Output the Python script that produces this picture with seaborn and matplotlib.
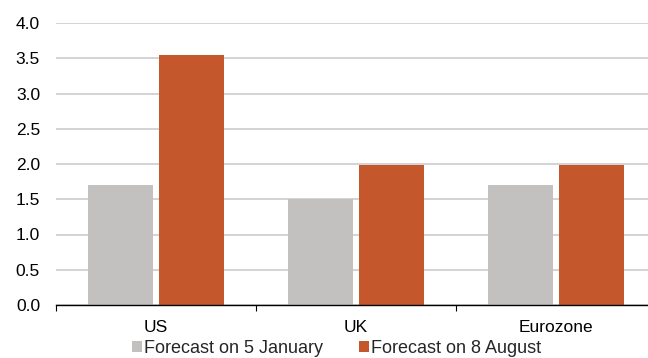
import matplotlib
matplotlib.use("Agg")
import matplotlib.pyplot as plt
import seaborn as sns
import pandas as pd
from matplotlib.patches import Patch

regions = ["US", "UK", "Eurozone"]
series_names = ["Forecast on 5 January", "Forecast on 8 August"]
jan_values = [1.70, 1.50, 1.70]
aug_values = [3.55, 1.99, 1.98]
colors = ["#c2c1bf", "#c4572c"]

df = pd.DataFrame({
    "region": regions * 2,
    "series": [series_names[0]] * 3 + [series_names[1]] * 3,
    "value": jan_values + aug_values,
})

sns.set_theme(style="white")
plt.rcParams["font.family"] = ["Liberation Sans", "DejaVu Sans"]

FS = 12.5
fig = plt.figure(figsize=(6.48, 3.58), dpi=100)
ax = fig.add_axes([56 / 648, 1 - 305 / 358, 600 / 648, (305 - 23) / 358])

sns.barplot(data=df, x="region", y="value", hue="series", order=regions,
            hue_order=series_names, palette=colors, width=0.71, gap=0.085,
            saturation=1, ax=ax, legend=False, errorbar=None, linewidth=0)

ax.set_ylim(0, 4.0)
ax.set_xlim(-0.5, 2.5)
ax.set_yticks([i * 0.5 for i in range(9)])
ax.set_yticklabels([f"{i * 0.5:.1f}" for i in range(9)], fontsize=FS, color="#000000")
ax.yaxis.grid(True, color="#d0d0d0", linewidth=1.3)
ax.set_axisbelow(True)
ax.tick_params(axis="y", length=0, pad=11.5)

ax.set_xticks(range(len(regions)))
ax.set_xticklabels(regions, fontsize=FS, color="#000000")
ax.set_xticks([-0.5, 0.5, 1.5, 2.5], minor=True)
ax.tick_params(axis="x", which="major", length=0, pad=10.5)
ax.tick_params(axis="x", which="minor", length=4.5, width=0.8, color="#000000", direction="out", bottom=True)

ax.set_xlabel("")
ax.set_ylabel("")
for s in ["left", "right", "top"]:
    ax.spines[s].set_visible(False)
ax.spines["bottom"].set_color("#000000")
ax.spines["bottom"].set_linewidth(1.0)

handles = [Patch(facecolor=c, edgecolor="none") for c in colors]
fig.legend(handles, series_names, loc="center", bbox_to_anchor=(0.5195, 1 - 348.5 / 358),
           ncol=2, frameon=False, fontsize=13, handlelength=0.55, handleheight=0.55,
           handletextpad=0.15, columnspacing=1.97, borderaxespad=0, borderpad=0)

fig.savefig("out.png", dpi=100)
